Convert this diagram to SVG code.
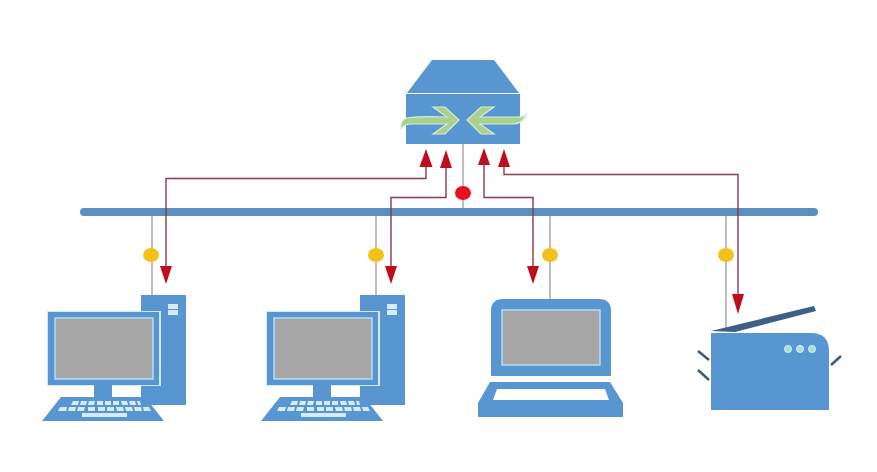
<svg xmlns="http://www.w3.org/2000/svg" width="877" height="472" viewBox="0 0 877 472">
<style>
.b{fill:#5896d2}
.s{fill:#a6a6a6;stroke:#b5dcf5;stroke-width:1.5}
.k{fill:#d6ecf5}
.g{stroke:#a9a9ad;stroke-width:1.5;fill:none}
.y{fill:#f2c21a}
.r{fill:none;stroke:#8a3a4c;stroke-width:1.4}
.h{fill:#c00d1e}
.a{fill:#a9d18e;stroke:#d5ecd8;stroke-width:1.2}
.d{fill:#a8dde0;stroke:#dff2f5;stroke-width:1}
.l{stroke:#3f5a78;stroke-width:2.5;fill:none}
</style>
<defs>
<g id="pc">
<rect class="b" x="141" y="295" width="45" height="110"/>
<rect class="k" x="168" y="304" width="10" height="5"/>
<rect class="k" x="168" y="310" width="10" height="5"/>
<rect x="47" y="311" width="114" height="75" fill="#d4e9f7"/>
<rect class="b" x="48" y="312" width="111" height="73"/>
<rect class="s" x="55" y="318" width="98" height="61"/>
<rect class="b" x="94" y="385" width="18" height="12"/>
<path d="M61 397H145L164 421H42Z" class="b"/>
<path class="k" d="M73 401h6l-1 4h-7zM81 401h6l-1 4h-6zM89 401h6l-1 4h-6zM97 401h6v4h-6zM105 401h6v4h-6zM113 401h6v4h-6zM121 401h6l1 4h-6zM129 401h6l1 4h-6zM137 401h3l1 4h-3z"/>
<path class="k" d="M60 407h7l-1 4h-8zM69 407h7l-1 4h-7zM78 407h7l-1 4h-7zM88 407h7v4h-7zM98 407h7v4h-7zM107 407h7v4h-7zM116 407h7l1 4h-7zM125 407h7l1 4h-7zM134 407h7l1 4h-7zM143 407h6l2 4h-7z"/>
<rect class="k" x="82" y="413" width="45" height="4"/>
</g>
</defs>
<rect width="877" height="472" fill="#fefefe"/>
<g id="connectors">
<path class="g" d="M463 144V208M152 216V295M376 216V295M550 216V299M726 216V330"/>
<rect id="bus" x="80" y="208" width="738" height="8" rx="4" fill="#5b8fbd"/>
<path class="r" d="M426 165V178.500H166V268M446 166V197.500H391V268M484 163V197.500H533V268M504 165V174.500H738V296"/>
<path class="h" d="M426 149L432.500 167H419.500ZM446 150L452 168H440ZM484 148L490 165H478ZM504 149L510 167H498Z"/>
<path class="h" d="M160 266H172L166 284ZM385 266H397L391 284ZM527 266H539L533 284ZM732 294H744L738 314Z"/>
<ellipse id="dot-center" cx="463" cy="193" rx="8" ry="7" fill="#e8101c"/>
<ellipse class="y" cx="151" cy="255" rx="8" ry="7"/>
<ellipse class="y" cx="376" cy="255" rx="8" ry="7"/>
<ellipse class="y" cx="550" cy="255" rx="8" ry="7"/>
<ellipse class="y" cx="726" cy="255" rx="8" ry="7"/>
</g>
<g id="switch">
<path class="b" d="M432 60H494L519 93H407Z"/>
<rect class="b" x="406" y="94" width="114" height="50"/>
<path class="a" d="M433 107H445L459 120L445 134H433L447 124H412Q404 124 401 129Q400 120 407 118Q420 116 447 117Z"/>
<path class="a" d="M494 107H481L467 120L481 134H494L480 124H514Q524 123 527 113Q526 117 518 117H480Z"/>
</g>
<use id="pc-1" href="#pc"/>
<use id="pc-2" href="#pc" x="219"/>
<g id="laptop">
<path class="b" d="M491 376V311Q491 299 503 299H599Q611 299 611 311V376Z"/>
<rect class="s" x="502" y="310" width="98" height="55"/>
<path class="b" fill-rule="evenodd" d="M490 382H610L623 403V417H478V403ZM497 389L493 400H609L605 389Z"/>
</g>
<g id="printer">
<path class="l" d="M698 351L709 360M698 370L709 380M831 365L841 356"/>
<path fill="#3f5f86" d="M711 331L814 306L816 311L735 332Z"/>
<path class="b" d="M711 333H811Q829 333 829 351V410H711Z"/>
<circle class="d" cx="788" cy="349" r="3.500"/>
<circle class="d" cx="800" cy="349" r="3.500"/>
<circle class="d" cx="812" cy="349" r="3.500"/>
</g>
</svg>
